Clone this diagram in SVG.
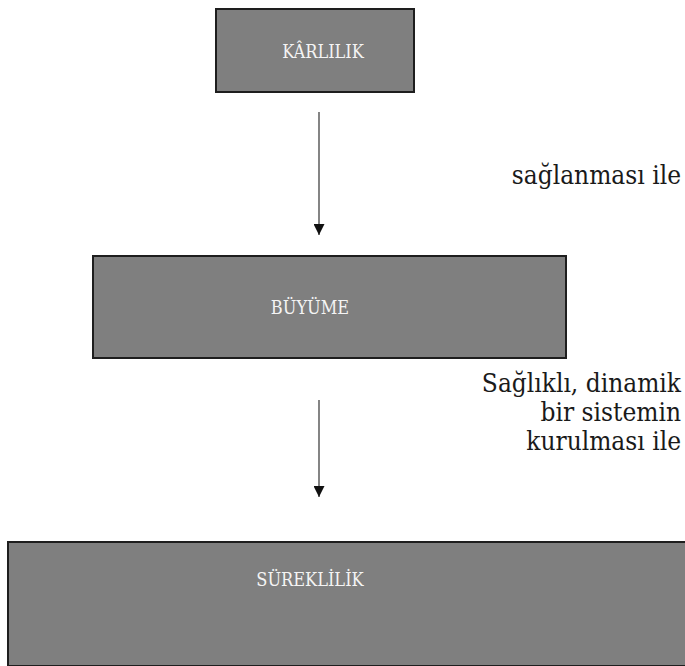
<svg xmlns="http://www.w3.org/2000/svg" width="685" height="666" viewBox="0 0 685 666">
  <style>
    .box { fill: #7f7f7f; stroke: #1e1e1e; stroke-width: 2; }
    .boxlabel { font-family: 'DejaVu Serif', serif; font-stretch: condensed; font-size: 18px; fill: #f4f4f4; text-anchor: middle; }
    .note { font-family: 'DejaVu Serif', serif; font-stretch: condensed; font-size: 26px; fill: #1a1a1a; text-anchor: end; }
    .link { stroke: #333; stroke-width: 1.2; fill: none; }
  </style>
  <defs>
    <marker id="arrow" viewBox="0 0 10 10" refX="10" refY="5" markerWidth="11" markerHeight="11" markerUnits="userSpaceOnUse" orient="auto">
      <path d="M0,0 L10,5 L0,10 Z" fill="#111"/>
    </marker>
  </defs>
  <rect width="685" height="666" fill="#ffffff"/>

  <g id="karlilik">
    <rect class="box" x="216" y="9" width="198" height="83"/>
    <text class="boxlabel" x="323" y="58">KÂRLILIK</text>
  </g>

  <g id="buyume">
    <rect class="box" x="93" y="256" width="473" height="102"/>
    <text class="boxlabel" x="310" y="314">BÜYÜME</text>
  </g>

  <g id="sureklilik">
    <rect class="box" x="8" y="542" width="680" height="124"/>
    <text class="boxlabel" x="310" y="586" font-size="16">SÜREKLİLİK</text>
  </g>

  <g id="connectors">
    <line class="link" x1="319" y1="112" x2="319" y2="235" marker-end="url(#arrow)"/>
    <line class="link" x1="319" y1="400" x2="319" y2="497" marker-end="url(#arrow)"/>
  </g>

  <g id="labels">
    <text class="note" x="681" y="184">sağlanması ile</text>
    <text class="note" x="681" y="392">Sağlıklı, dinamik</text>
    <text class="note" x="681" y="421">bir sistemin</text>
    <text class="note" x="681" y="450">kurulması ile</text>
  </g>
</svg>
